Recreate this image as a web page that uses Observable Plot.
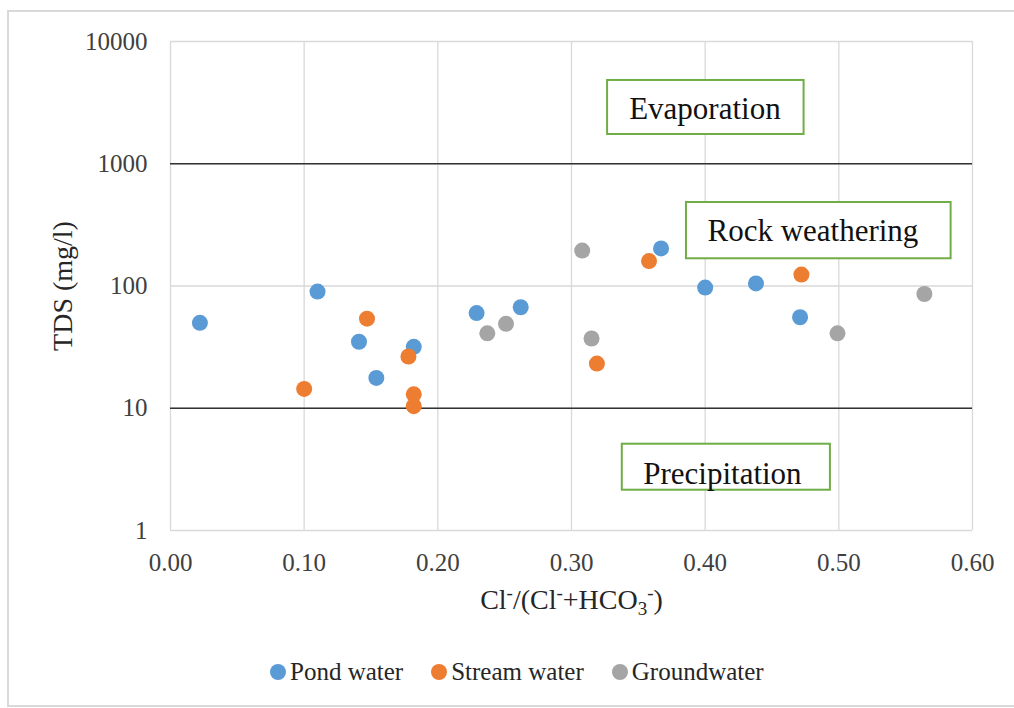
<!DOCTYPE html>
<html>
<head>
<meta charset="utf-8">
<script src="https://cdn.jsdelivr.net/npm/d3@7"></script>
<script src="https://cdn.jsdelivr.net/npm/@observablehq/plot@0.6"></script>
<style>
  body { margin: 0; background: #fff; }
  #chart {
    position: relative; width: 1014px; height: 708px; overflow: hidden;
    font-family: "Liberation Serif", "Times New Roman", serif;
  }
  #frame {
    position: absolute; left: 7px; top: 10px; width: 1012px; height: 697px;
    border: 2px solid #d9d9d9; box-sizing: border-box;
  }
  #plot { position: absolute; left: 0; top: 0; }
  #legend {
    position: absolute; top: 657px; left: 270px; height: 30px;
    display: flex; align-items: center; font-size: 25px; line-height: 30px; color: #262626;
  }
  #legend .item { display: flex; align-items: center; margin-right: 28px; }
  #legend .swatch { width: 16px; height: 16px; border-radius: 50%; margin-right: 4px; }
</style>
</head>
<body>
<div id="chart">
  <div id="frame"></div>
  <div id="plot"></div>
  <div id="legend"></div>
</div>
<script>
// Series names and marker colours
const seriesNames = ["Pond water", "Stream water", "Groundwater"];
const seriesColors = ["#5b9bd5", "#ed7d31", "#a5a5a5"];

// Cl/(Cl+HCO3) ratio and TDS (mg/l) for each sample
const pondRatio = [0.022, 0.110, 0.141, 0.154, 0.182, 0.229, 0.262, 0.367, 0.400, 0.438, 0.471];
const pondTDS   = [50, 90, 35, 17.7, 31.8, 60, 67, 203, 97, 105, 55.5];

const streamRatio = [0.100, 0.147, 0.178, 0.182, 0.182, 0.319, 0.358, 0.472];
const streamTDS   = [14.4, 54, 26.5, 13.0, 10.4, 23.2, 160, 124];

const groundRatio = [0.237, 0.251, 0.308, 0.315, 0.499, 0.564];
const groundTDS   = [41, 49, 195, 37.2, 41, 86];

// Axis ticks
const xTicks = [0, 0.1, 0.2, 0.3, 0.4, 0.5, 0.6];
const yTicks = [1, 10, 100, 1000, 10000];

// TDS boundaries between the controlling processes
const boundaries = [10, 1000];

// Process zone labels
const zoneLabels = ["Evaporation", "Rock weathering", "Precipitation"];

// Axis titles
const yTitle = "TDS (mg/l)";
const xTitleText = "Cl-/(Cl-+HCO3-)";

const rows = [
  ...pondRatio.map((r, i) => ({series: seriesNames[0], ratio: r, tds: pondTDS[i]})),
  ...streamRatio.map((r, i) => ({series: seriesNames[1], ratio: r, tds: streamTDS[i]})),
  ...groundRatio.map((r, i) => ({series: seriesNames[2], ratio: r, tds: groundTDS[i]}))
];

// Label boxes placed in data space inside each zone
const zones = [
  {label: zoneLabels[0], x1: 0.327, x2: 0.474, y1: 1735, y2: 4800, tx: 0.3998, ty: 2330},
  {label: zoneLabels[1], x1: 0.386, x2: 0.584, y1: 167, y2: 482, tx: 0.4806, ty: 232},
  {label: zoneLabels[2], x1: 0.338, x2: 0.4937, y1: 2.136, y2: 5.08, tx: 0.4129, ty: 2.41}
];

const serif = "Liberation Serif, Times New Roman, serif";

const plot = Plot.plot({
  width: 1014,
  height: 630,
  marginLeft: 170,
  marginRight: 42,
  marginTop: 41,
  marginBottom: 100,
  style: {fontFamily: serif, fontSize: "25px", color: "#404040", background: "transparent"},
  x: {domain: [0, 0.6], ticks: xTicks, tickFormat: d3.format(".2f"), tickSize: 0, tickPadding: 23, label: null},
  y: {type: "log", domain: [1, 10000], ticks: yTicks, tickFormat: d => String(d), tickSize: 0, tickPadding: 23, label: null},
  color: {domain: seriesNames, range: seriesColors},
  marks: [
    Plot.gridX(xTicks, {stroke: "#d9d9d9", strokeOpacity: 1, strokeWidth: 1.3}),
    Plot.gridY(yTicks, {stroke: "#d9d9d9", strokeOpacity: 1, strokeWidth: 1.3}),
    Plot.ruleY(boundaries, {stroke: "#333", strokeWidth: 1.7}),
    Plot.dot(rows, {x: "ratio", y: "tds", fill: "series", r: 8}),
    Plot.rect(zones, {x1: "x1", x2: "x2", y1: "y1", y2: "y2", fill: "white", stroke: "#70ad47", strokeWidth: 2}),
    Plot.text(zones, {x: "tx", y: "ty", text: "label", lineAnchor: "bottom", fontSize: 31, fill: "#111"}),
    Plot.text([yTitle], {frameAnchor: "left", textAnchor: "middle", lineAnchor: "middle", rotate: -90, dx: -107, fontSize: 28, fill: "#262626"}),
    Plot.text([xTitleText], {frameAnchor: "bottom", textAnchor: "middle", lineAnchor: "bottom", dy: 78, fontSize: 28, fill: "#262626"})
  ]
});

document.getElementById("plot").appendChild(plot);

// Rebuild the x title with superscript charges and the subscript 3
const xTitle = d3.select(plot).selectAll("text").filter(function() { return this.textContent === xTitleText; });
xTitle.text(null);
const parts = [["Cl", 0], ["-", -1], ["/(Cl", 0], ["-", -1], ["+HCO", 0], ["3", 1], ["-", -1], [")", 0]];
const shift = {"-1": -10, "0": 0, "1": 6};
let current = 0;
for (const [str, level] of parts) {
  const target = shift[level];
  const ts = xTitle.append("tspan").text(str).attr("dy", target - current);
  if (level !== 0) ts.attr("font-size", 19);
  current = target;
}

// Legend
const legend = d3.select("#legend");
seriesNames.forEach((name, i) => {
  const item = legend.append("span").attr("class", "item");
  item.append("span").attr("class", "swatch").style("background", seriesColors[i]);
  item.append("span").text(name);
});
</script>
</body>
</html>
